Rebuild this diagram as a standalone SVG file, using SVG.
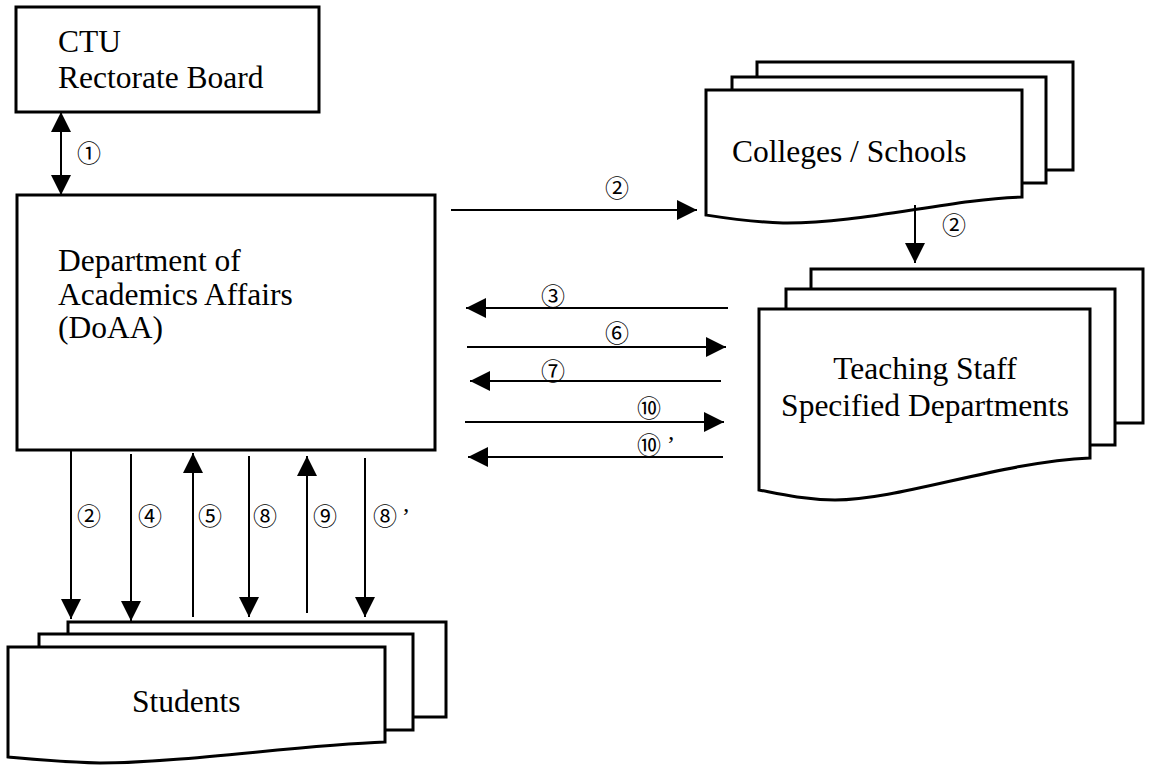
<svg xmlns="http://www.w3.org/2000/svg" width="1149" height="767" viewBox="0 0 1149 767">
<style>
.box{fill:#fff;stroke:#000;stroke-width:3}
.t{font-family:'Liberation Serif','Times New Roman','DejaVu Serif',serif;font-size:31.5px;fill:#000}
.n{font-family:'Noto Sans CJK JP','Noto Sans CJK SC',sans-serif;font-size:24px;fill:#000;text-anchor:middle}
.q{font-family:'Liberation Serif','Times New Roman','DejaVu Serif',serif;font-size:24px;fill:#000}
.c{stroke:#000;stroke-width:2;fill:none}
</style>
<defs>
<marker id="ah" markerUnits="userSpaceOnUse" markerWidth="20" markerHeight="20" refX="20" refY="10" orient="auto-start-reverse">
<path d="M0,0 L20,10 L0,20 Z" fill="#000"/>
</marker>
</defs>
<rect width="1149" height="767" fill="#fff"/>

<g id="ctu">
<rect class="box" x="16" y="7" width="303" height="105"/>
<text class="t" x="58" y="52">CTU</text>
<text class="t" x="58" y="88">Rectorate Board</text>
</g>

<g id="doaa">
<rect class="box" x="17" y="195" width="418" height="255"/>
<text class="t" x="58" y="271">Department of</text>
<text class="t" x="58" y="305">Academics Affairs</text>
<text class="t" x="58" y="338">(DoAA)</text>
</g>

<g id="colleges">
<rect class="box" x="757" y="62" width="316" height="108"/>
<rect class="box" x="732" y="77" width="314" height="106"/>
<path class="box" d="M706,90 H1022 V197 C950,199 860,224 783,223 C750,222 725,218 706,215 Z"/>
<text class="t" x="732" y="162">Colleges / Schools</text>
</g>

<g id="teaching">
<rect class="box" x="811" y="269" width="332" height="154"/>
<rect class="box" x="786" y="289" width="329" height="156"/>
<path class="box" d="M759,309 H1090 V458 C1000,462 900,500 835,500 C800,499 780,494 759,490 Z"/>
<text class="t" x="925" y="379" text-anchor="middle">Teaching Staff</text>
<text class="t" x="925" y="416" text-anchor="middle">Specified Departments</text>
</g>

<g id="students">
<rect class="box" x="68" y="622" width="378" height="95"/>
<rect class="box" x="39" y="634" width="374" height="96"/>
<path class="box" d="M8,647 H385 V742 C300,745 180,763 100,763 C60,762 30,759 8,757 Z"/>
<text class="t" x="132" y="712">Students</text>
</g>

<g id="connectors">
<line class="c" x1="61" y1="112" x2="61" y2="195" marker-start="url(#ah)" marker-end="url(#ah)"/>
<line class="c" x1="451" y1="210" x2="697" y2="210" marker-end="url(#ah)"/>
<line class="c" x1="915" y1="205" x2="915" y2="263" marker-end="url(#ah)"/>
<line class="c" x1="728" y1="308" x2="466" y2="308" marker-end="url(#ah)"/>
<line class="c" x1="467" y1="347" x2="726" y2="347" marker-end="url(#ah)"/>
<line class="c" x1="721" y1="381" x2="470" y2="381" marker-end="url(#ah)"/>
<line class="c" x1="465" y1="422" x2="724" y2="422" marker-end="url(#ah)"/>
<line class="c" x1="723" y1="457" x2="468" y2="457" marker-end="url(#ah)"/>
<line class="c" x1="71" y1="450" x2="71" y2="619" marker-end="url(#ah)"/>
<line class="c" x1="131" y1="454" x2="131" y2="621" marker-end="url(#ah)"/>
<line class="c" x1="193" y1="617" x2="193" y2="453" marker-end="url(#ah)"/>
<line class="c" x1="249" y1="456" x2="249" y2="617" marker-end="url(#ah)"/>
<line class="c" x1="307" y1="613" x2="307" y2="456" marker-end="url(#ah)"/>
<line class="c" x1="365" y1="458" x2="365" y2="617" marker-end="url(#ah)"/>
</g>

<g id="labels">
<text class="n" x="89" y="162">①</text>
<text class="n" x="617" y="197">②</text>
<text class="n" x="954" y="234">②</text>
<text class="n" x="553" y="305">③</text>
<text class="n" x="617" y="342">⑥</text>
<text class="n" x="553" y="380">⑦</text>
<text class="n" x="649" y="417">⑩</text>
<text class="n" x="649" y="454">⑩</text>
<text class="q" x="667" y="452">’</text>
<text class="n" x="89" y="525">②</text>
<text class="n" x="150" y="525">④</text>
<text class="n" x="210" y="525">⑤</text>
<text class="n" x="265" y="525">⑧</text>
<text class="n" x="325" y="525">⑨</text>
<text class="n" x="385" y="525">⑧</text>
<text class="q" x="402" y="524">’</text>
</g>
</svg>
